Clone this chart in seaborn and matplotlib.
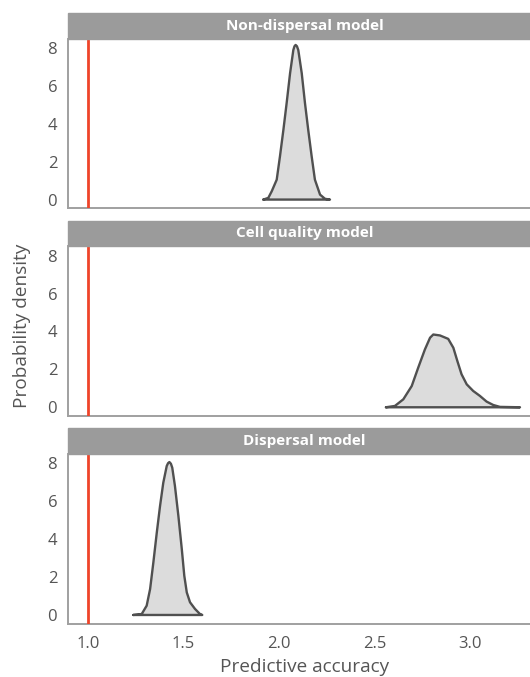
import numpy as np
import pandas as pd
import matplotlib
matplotlib.use("Agg")
import matplotlib.pyplot as plt
import seaborn as sns
from matplotlib.patches import Rectangle

# Panel titles (top to bottom)
panels = ["Non-dispersal model", "Cell quality model", "Dispersal model"]

# Density outlines (x = predictive accuracy, y = density)
nondisp_x = [1.918, 1.944, 1.962, 1.988, 2.005, 2.023, 2.040, 2.058, 2.075, 2.081, 2.087,
             2.094, 2.101, 2.119, 2.136, 2.153, 2.171, 2.188, 2.215, 2.241, 2.267]
nondisp_y = [0.00, 0.09, 0.44, 1.05, 2.28, 3.68, 5.09, 6.67, 7.89, 8.09, 8.16,
             8.09, 7.89, 6.67, 5.09, 3.68, 2.28, 1.05, 0.26, 0.04, 0.00]

cellq_x = [2.560, 2.607, 2.651, 2.695, 2.729, 2.764, 2.791, 2.808, 2.843, 2.886,
           2.913, 2.934, 2.956, 2.983, 3.017, 3.052, 3.087, 3.122, 3.157, 3.262]
cellq_y = [0.00, 0.07, 0.42, 1.12, 2.09, 3.05, 3.67, 3.84, 3.79, 3.61,
           3.14, 2.44, 1.74, 1.21, 0.86, 0.60, 0.30, 0.12, 0.02, 0.00]

disp_x = [1.237, 1.281, 1.307, 1.325, 1.342, 1.360, 1.377, 1.394, 1.412, 1.419, 1.426,
          1.434, 1.441, 1.455, 1.473, 1.491, 1.504, 1.517, 1.534, 1.560, 1.586, 1.598]
disp_y = [0.00, 0.05, 0.49, 1.37, 2.77, 4.35, 5.75, 6.98, 7.86, 8.01, 8.07,
          7.98, 7.77, 6.81, 5.23, 3.47, 2.07, 1.19, 0.67, 0.32, 0.05, 0.00]

reference_accuracy = 1.0
x_ticks = [1.0, 1.5, 2.0, 2.5, 3.0]
y_ticks = [0, 2, 4, 6, 8]

curves = [(nondisp_x, nondisp_y), (cellq_x, cellq_y), (disp_x, disp_y)]


def draw_panel(ax, title, xs, ys, show_x):
    """Filled density with closed outline, reference line and grey strip."""
    ax.fill_between(xs, ys, 0, color="#dcdcdc", lw=0, zorder=2)
    outline = pd.DataFrame({"x": list(xs) + [xs[0]], "y": list(ys) + [ys[0]]})
    sns.lineplot(data=outline, x="x", y="y", sort=False, ax=ax, color="#505050",
                 lw=1.7, zorder=3, estimator=None, solid_joinstyle="round")
    ax.axvline(reference_accuracy, color="#ef4429", lw=2.0, zorder=4)

    # panel runs slightly past the right edge of the (cropped) figure
    ax.set_xlim(0.895, 3.372)
    ax.set_ylim(-0.45, 8.5)
    ax.set_xticks(x_ticks)
    ax.set_yticks(y_ticks)
    ax.set_xlabel("")
    ax.set_ylabel("")
    ax.tick_params(axis="both", colors="#999999", labelcolor="#555555",
                   length=4.3, width=1.3, labelsize=12, pad=3.5)
    ax.tick_params(axis="x", pad=4.5)
    if not show_x:
        ax.tick_params(axis="x", length=0, labelbottom=False)
    else:
        ax.set_xticklabels([f"{t:.1f}" for t in x_ticks])

    for side in ["top", "right"]:
        ax.spines[side].set_visible(False)
    for side in ["left", "bottom"]:
        ax.spines[side].set_color("#a0a0a0")
        ax.spines[side].set_linewidth(1.4)

    strip_h = 25.5 / 169.6
    ax.add_patch(Rectangle((0, 1), 1, strip_h, transform=ax.transAxes,
                           color="#9b9b9b", clip_on=False, zorder=5))
    ax.text(0.5, 1 + strip_h / 2, title, transform=ax.transAxes, ha="center",
            va="center", color="white", fontsize=11, fontweight="bold", zorder=6)


def main():
    sns.set_theme(style="white")
    plt.rcParams["font.family"] = ["Open Sans", "DejaVu Sans"]

    W, H = 530, 677
    fig = plt.figure(figsize=(W / 100, H / 100), dpi=100)

    plot_bottoms = [208.1, 415.8, 623.5]
    plot_h = 169.6
    for i, (title, (xs, ys)) in enumerate(zip(panels, curves)):
        ax = fig.add_axes([68 / W, 1 - plot_bottoms[i] / H, 473 / W, plot_h / H])
        draw_panel(ax, title, xs, ys, show_x=(i == len(panels) - 1))

    fig.text(304.5 / W, 1 - 667 / H, "Predictive accuracy", ha="center", va="center",
             fontsize=13.7, color="#555555")
    fig.text(22 / W, 1 - 326 / H, "Probability density", ha="center", va="center",
             rotation=90, fontsize=13.7, color="#555555")

    fig.savefig("out.png", dpi=100)


if __name__ == "__main__":
    main()
